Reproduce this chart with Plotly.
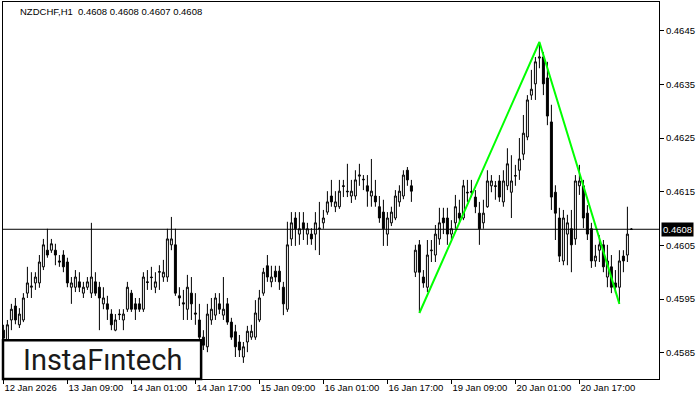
import plotly.graph_objects as go

# NZDCHF H1 bars (index 0 = 12 Jan 2026 17:00)
open_ = [
    0.45892, 0.45874, 0.45911, 0.45937, 0.45902, 0.45911, 0.45961, 0.45972, 0.45980, 0.45980,
    0.46010, 0.46041, 0.46041, 0.46041, 0.46021, 0.46032, 0.46019, 0.45972, 0.45972, 0.45982,
    0.45961, 0.45972, 0.45961, 0.45982, 0.45972, 0.45941, 0.45941, 0.45922, 0.45892, 0.45922,
    0.45911, 0.45931, 0.45961, 0.45941, 0.45941, 0.45931, 0.45982, 0.45991, 0.45972, 0.46000,
    0.45991, 0.45991, 0.46051, 0.46051, 0.45956, 0.45943, 0.45931, 0.45961, 0.45924, 0.45911,
    0.45879, 0.45861, 0.45911, 0.45920, 0.45941, 0.45920, 0.45941, 0.45907, 0.45889, 0.45870,
    0.45842, 0.45870, 0.45879, 0.45879, 0.45911, 0.45961, 0.46012, 0.45982, 0.46002, 0.46002,
    0.45972, 0.45931, 0.46062, 0.46101, 0.46071, 0.46092, 0.46071, 0.46071, 0.46071, 0.46081,
    0.46092, 0.46112, 0.46142, 0.46122, 0.46122, 0.46161, 0.46151, 0.46142, 0.46142, 0.46179,
    0.46172, 0.46161, 0.46142, 0.46142, 0.46122, 0.46112, 0.46071, 0.46092, 0.46101, 0.46131,
    0.46142, 0.46190, 0.46161, 0.46000, 0.46051, 0.45991, 0.45972, 0.46040, 0.46032, 0.46062,
    0.46101, 0.46101, 0.46071, 0.46092, 0.46110, 0.46101, 0.46149, 0.46149, 0.46140, 0.46110,
    0.46092, 0.46122, 0.46161, 0.46161, 0.46170, 0.46131, 0.46161, 0.46149, 0.46179, 0.46190,
    0.46220, 0.46252, 0.46330, 0.46351, 0.46399, 0.46401, 0.46362, 0.46280, 0.46149, 0.46101,
    0.46021, 0.46071, 0.46081, 0.46062, 0.46161, 0.46161, 0.46110, 0.46081, 0.46021, 0.46041,
    0.46051, 0.45991, 0.46010, 0.45980, 0.45972, 0.46030, 0.46032, 0.46080,
]
high_ = [
    0.45902, 0.45911, 0.45941, 0.45952, 0.45933, 0.45961, 0.46010, 0.46000, 0.46000, 0.46032,
    0.46062, 0.46081, 0.46062, 0.46053, 0.46032, 0.46041, 0.46027, 0.45991, 0.46004, 0.46000,
    0.45982, 0.45991, 0.46092, 0.46000, 0.45982, 0.45972, 0.45956, 0.45931, 0.45922, 0.45931,
    0.45931, 0.45982, 0.45967, 0.45952, 0.45952, 0.46000, 0.46004, 0.46010, 0.46000, 0.46013,
    0.46023, 0.46081, 0.46103, 0.46081, 0.45972, 0.45967, 0.45995, 0.45991, 0.45961, 0.45941,
    0.45892, 0.45941, 0.45952, 0.45961, 0.45961, 0.45991, 0.45952, 0.45915, 0.45902, 0.45883,
    0.45870, 0.45900, 0.45902, 0.45948, 0.45967, 0.46008, 0.46032, 0.46012, 0.46012, 0.46012,
    0.45982, 0.46094, 0.46112, 0.46112, 0.46112, 0.46112, 0.46092, 0.46082, 0.46112, 0.46131,
    0.46116, 0.46151, 0.46172, 0.46151, 0.46172, 0.46172, 0.46202, 0.46172, 0.46190, 0.46202,
    0.46181, 0.46181, 0.46211, 0.46172, 0.46142, 0.46135, 0.46112, 0.46122, 0.46153, 0.46162,
    0.46190, 0.46196, 0.46172, 0.46051, 0.46060, 0.46004, 0.46060, 0.46060, 0.46088, 0.46120,
    0.46120, 0.46120, 0.46097, 0.46144, 0.46135, 0.46172, 0.46172, 0.46172, 0.46153, 0.46131,
    0.46135, 0.46190, 0.46181, 0.46170, 0.46181, 0.46190, 0.46231, 0.46218, 0.46200, 0.46250,
    0.46293, 0.46330, 0.46377, 0.46401, 0.46429, 0.46410, 0.46392, 0.46312, 0.46162, 0.46120,
    0.46116, 0.46107, 0.46116, 0.46181, 0.46200, 0.46172, 0.46125, 0.46092, 0.46051, 0.46069,
    0.46060, 0.46051, 0.46032, 0.46004, 0.46041, 0.46041, 0.46122, 0.46082,
]
low_ = [
    0.45864, 0.45870, 0.45892, 0.45903, 0.45896, 0.45907, 0.45952, 0.45952, 0.45967, 0.45971,
    0.46004, 0.46027, 0.46036, 0.46013, 0.46010, 0.46000, 0.45972, 0.45941, 0.45963, 0.45963,
    0.45952, 0.45967, 0.45952, 0.45956, 0.45892, 0.45931, 0.45911, 0.45892, 0.45890, 0.45911,
    0.45892, 0.45926, 0.45926, 0.45911, 0.45926, 0.45926, 0.45967, 0.45967, 0.45961, 0.45967,
    0.45982, 0.45982, 0.46041, 0.45956, 0.45937, 0.45911, 0.45911, 0.45911, 0.45902, 0.45874,
    0.45855, 0.45851, 0.45902, 0.45911, 0.45922, 0.45911, 0.45902, 0.45874, 0.45842, 0.45842,
    0.45831, 0.45851, 0.45874, 0.45874, 0.45907, 0.45956, 0.45982, 0.45972, 0.45982, 0.45967,
    0.45920, 0.45926, 0.46049, 0.46049, 0.46051, 0.46060, 0.46051, 0.46051, 0.46041, 0.46032,
    0.46081, 0.46107, 0.46122, 0.46112, 0.46118, 0.46140, 0.46140, 0.46129, 0.46135, 0.46161,
    0.46153, 0.46122, 0.46122, 0.46122, 0.46092, 0.46049, 0.46049, 0.46086, 0.46097, 0.46122,
    0.46136, 0.46161, 0.46131, 0.45991, 0.45924, 0.45971, 0.45963, 0.46019, 0.46019, 0.46051,
    0.46071, 0.46051, 0.46060, 0.46081, 0.46090, 0.46097, 0.46131, 0.46140, 0.46110, 0.46051,
    0.46081, 0.46120, 0.46149, 0.46135, 0.46131, 0.46122, 0.46153, 0.46101, 0.46161, 0.46172,
    0.46209, 0.46246, 0.46321, 0.46321, 0.46380, 0.46330, 0.46274, 0.46116, 0.46060, 0.46019,
    0.46013, 0.46013, 0.46000, 0.46051, 0.46144, 0.46082, 0.46060, 0.46008, 0.46010, 0.46019,
    0.46000, 0.45972, 0.45961, 0.45961, 0.45941, 0.46000, 0.46019, 0.46079,
]
close_ = [
    0.45877, 0.45902, 0.45931, 0.45911, 0.45922, 0.45952, 0.45980, 0.45974, 0.45991, 0.46019,
    0.46051, 0.46032, 0.46053, 0.46032, 0.46019, 0.46010, 0.45980, 0.45980, 0.45991, 0.45972,
    0.45972, 0.45982, 0.45991, 0.45961, 0.45952, 0.45952, 0.45931, 0.45902, 0.45911, 0.45921,
    0.45922, 0.45972, 0.45931, 0.45931, 0.45931, 0.45991, 0.45981, 0.45990, 0.45982, 0.46001,
    0.46000, 0.46062, 0.46062, 0.45961, 0.45952, 0.45941, 0.45972, 0.45941, 0.45922, 0.45879,
    0.45864, 0.45922, 0.45931, 0.45952, 0.45931, 0.45931, 0.45907, 0.45879, 0.45861, 0.45855,
    0.45861, 0.45890, 0.45890, 0.45924, 0.45952, 0.46000, 0.45991, 0.45991, 0.45991, 0.45982,
    0.45941, 0.46051, 0.46092, 0.46081, 0.46081, 0.46081, 0.46081, 0.46062, 0.46092, 0.46082,
    0.46101, 0.46131, 0.46131, 0.46131, 0.46151, 0.46160, 0.46150, 0.46151, 0.46172, 0.46181,
    0.46173, 0.46151, 0.46151, 0.46131, 0.46101, 0.46081, 0.46101, 0.46112, 0.46142, 0.46151,
    0.46181, 0.46172, 0.46151, 0.46041, 0.46000, 0.45980, 0.46032, 0.46041, 0.46071, 0.46092,
    0.46092, 0.46071, 0.46081, 0.46122, 0.46101, 0.46161, 0.46148, 0.46150, 0.46122, 0.46081,
    0.46110, 0.46170, 0.46170, 0.46160, 0.46140, 0.46170, 0.46202, 0.46170, 0.46180, 0.46211,
    0.46259, 0.46321, 0.46341, 0.46392, 0.46401, 0.46351, 0.46291, 0.46140, 0.46110, 0.46030,
    0.46101, 0.46092, 0.46051, 0.46170, 0.46170, 0.46101, 0.46071, 0.46021, 0.46030, 0.46051,
    0.46010, 0.46021, 0.45972, 0.45972, 0.46021, 0.46021, 0.46071, 0.46080,
]
bars = list(range(len(close_)))

# double top pattern (bar index, price)
pattern_bar = [104, 134, 154]
pattern_price = [0.45924, 0.46429, 0.45941]

last_price = 0.4608

x_tick_bars = [0, 16, 32, 48, 64, 80, 96, 112, 128, 144]
x_tick_labels = ["12 Jan 2026", "13 Jan 09:00", "14 Jan 01:00", "14 Jan 17:00",
                 "15 Jan 09:00", "16 Jan 01:00", "16 Jan 17:00", "19 Jan 09:00",
                 "20 Jan 01:00", "20 Jan 17:00"]
y_ticks = [0.4585, 0.4595, 0.4605, 0.4615, 0.4625, 0.4635, 0.4645]

font_name = "Liberation Sans"

fig = go.Figure()

fig.add_trace(go.Candlestick(
    x=bars, open=open_, high=high_, low=low_, close=close_,
    increasing=dict(line=dict(color="black", width=1), fillcolor="white"),
    decreasing=dict(line=dict(color="black", width=1), fillcolor="black"),
    whiskerwidth=0,
    hoverinfo="skip",
    showlegend=False,
))

fig.add_trace(go.Scatter(
    x=pattern_bar, y=pattern_price, mode="lines",
    line=dict(color="#00ff00", width=2),
    hoverinfo="skip", showlegend=False,
))

# current price line
fig.add_shape(type="line", xref="paper", x0=0, x1=1, yref="y", y0=last_price, y1=last_price,
              line=dict(color="black", width=1))

# logo box
fig.add_shape(type="rect", xref="paper", yref="paper", x0=0, x1=0.302, y0=0, y1=0.103,
              fillcolor="white", line=dict(color="black", width=2.5), layer="above")
fig.add_annotation(xref="paper", yref="paper", x=0.151, y=0.05, text="InstaFıntech",
                   showarrow=False, xanchor="center", yanchor="middle",
                   font=dict(family="Roboto", size=29, color="#1a1a1a"))

# header
fig.add_annotation(xref="paper", yref="paper", x=0.023, y=1, yshift=-2,
                   text="NZDCHF,H1  0.4608 0.4608 0.4607 0.4608",
                   showarrow=False, xanchor="left", yanchor="top",
                   font=dict(family=font_name, size=9.5, color="black"))

# last price label on the axis
fig.add_annotation(xref="paper", yref="y", x=1, y=last_price, xshift=2,
                   text="0.4608", showarrow=False, xanchor="left", yanchor="middle",
                   bgcolor="black", borderpad=1,
                   font=dict(family=font_name, size=9.5, color="white"))

fig.update_layout(
    width=700, height=400,
    margin=dict(l=3, r=41, t=2, b=21, autoexpand=False),
    paper_bgcolor="white", plot_bgcolor="white",
    showlegend=False,
    font=dict(family=font_name, size=9, color="black"),
)

fig.update_xaxes(
    range=[-0.1, 163.9], rangeslider_visible=False,
    showgrid=False, zeroline=False,
    showline=True, linecolor="black", linewidth=1, mirror=True,
    tickmode="array", tickvals=x_tick_bars, ticktext=x_tick_labels,
    ticks="outside", ticklen=4, tickcolor="black",
    ticklabelposition="outside right",
    tickfont=dict(family=font_name, size=9.5),
)
fig.update_yaxes(
    range=[0.45801, 0.465035], side="right",
    showgrid=False, zeroline=False,
    showline=True, linecolor="black", linewidth=1, mirror=True,
    tickmode="array", tickvals=y_ticks, ticktext=[f"{v:.4f}" for v in y_ticks],
    ticks="outside", ticklen=4, tickcolor="black",
    tickfont=dict(family=font_name, size=9.5),
)

# page body has a default margin; drop it so the figure sits at the window corner
fig.write_html("out.html", config={"displayModeBar": False},
               post_script="document.body.style.margin='0';")
